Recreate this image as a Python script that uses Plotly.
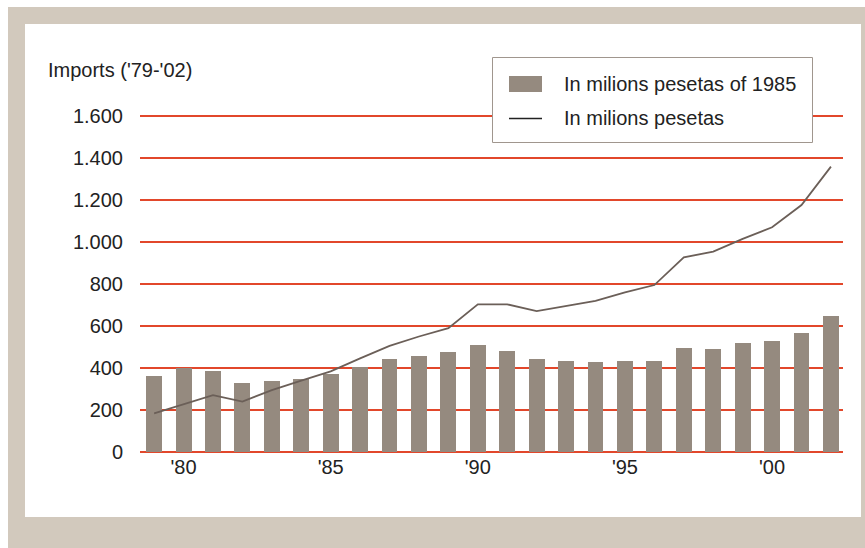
import plotly.graph_objects as go

years = list(range(1979, 2003))
real_1985 = [363, 401, 387, 329, 340, 349, 370, 406, 443, 457, 476, 511,
             479, 443, 435, 427, 433, 435, 495, 492, 518, 527, 568, 649]
nominal = [184, 228, 271, 240, 295, 340, 384, 446, 505, 550, 590, 703,
           703, 671, 695, 720, 760, 795, 927, 954, 1015, 1070, 1176, 1359]
xtick_vals = [1980, 1985, 1990, 1995, 2000]
xtick_text = ["'80", "'85", "'90", "'95", "'00"]
ytick_vals = [0, 200, 400, 600, 800, 1000, 1200, 1400, 1600]
series_names = ["In milions pesetas of 1985", "In milions pesetas"]

FONT = "Liberation Sans, Arial, sans-serif"
GRID = "#e2472b"
BEIGE = "#d2c9bd"
BAR_C = "#958a7f"
LINE_C = "#6b5f58"
TXT = "#222222"
FS = 20

fig = go.Figure()
fig.add_trace(go.Bar(x=years, y=real_1985, name=series_names[0],
                     marker=dict(color=BAR_C, line=dict(width=0)), width=0.54,
                     showlegend=False))
fig.add_trace(go.Scatter(x=years, y=nominal, name=series_names[1], mode="lines",
                         line=dict(color=LINE_C, width=1.8), showlegend=False))

L, R, T, B = 140, 22, 114, 95
W, H = 865, 548
pw, ph = W - L - R, H - T - B
U = 200 / 42.0  # data units per pixel on y

def px(x):
    return (x - L) / pw

def py(y):
    return (H - B - y) / ph

def prect(x0, y0, x1, y1, **kw):
    d = dict(type="rect", xref="paper", yref="paper",
             x0=px(x0), x1=px(x1), y0=py(y0), y1=py(y1))
    d.update(kw)
    return d

shapes = [
    prect(8, 7, 880, 560, layer="below", fillcolor=BEIGE, line=dict(width=0)),
    prect(25, 24, 861, 517, layer="below", fillcolor="white", line=dict(width=0)),
    # legend box
    prect(492.5, 57.5, 812.5, 142.5, layer="above", fillcolor="white",
          line=dict(color="#a0968e", width=1)),
    prect(509, 76, 542, 92, layer="above", fillcolor=BAR_C, line=dict(width=0)),
    dict(type="line", xref="paper", yref="paper", layer="above",
         x0=px(509), x1=px(542), y0=py(118.5), y1=py(118.5),
         line=dict(color=TXT, width=1.5)),
]

annotations = [
    dict(text="Imports ('79-'02)", xref="paper", yref="paper",
         x=px(46), y=py(70), xanchor="left", yanchor="middle",
         showarrow=False, font=dict(size=FS, color=TXT)),
    dict(text=series_names[0], xref="paper", yref="paper",
         x=px(562), y=py(84), xanchor="left", yanchor="middle",
         showarrow=False, font=dict(size=FS, color=TXT)),
    dict(text=series_names[1], xref="paper", yref="paper",
         x=px(562), y=py(118), xanchor="left", yanchor="middle",
         showarrow=False, font=dict(size=FS, color=TXT)),
]

fig.update_layout(
    width=W, height=H,
    margin=dict(l=L, r=R, t=T, b=B, pad=0),
    paper_bgcolor="white", plot_bgcolor="rgba(0,0,0,0)",
    font=dict(family=FONT, size=FS, color=TXT),
    separators=",.",
    showlegend=False,
    xaxis=dict(range=[1978.52, 2002.41], tickvals=xtick_vals, ticktext=xtick_text,
               showgrid=False, zeroline=False, showline=False, ticks="",
               tickfont=dict(size=FS, color=TXT)),
    yaxis=dict(range=[-1 * U, 1600 + 2 * U], tickvals=ytick_vals, tickformat=",d",
               showgrid=True, gridcolor=GRID, gridwidth=2,
               zeroline=True, zerolinecolor=GRID, zerolinewidth=2,
               showline=False, ticks="", ticklabelstandoff=16,
               tickfont=dict(size=FS, color=TXT)),
    bargap=0,
    shapes=shapes,
    annotations=annotations,
)

fig.write_html("out.html")
